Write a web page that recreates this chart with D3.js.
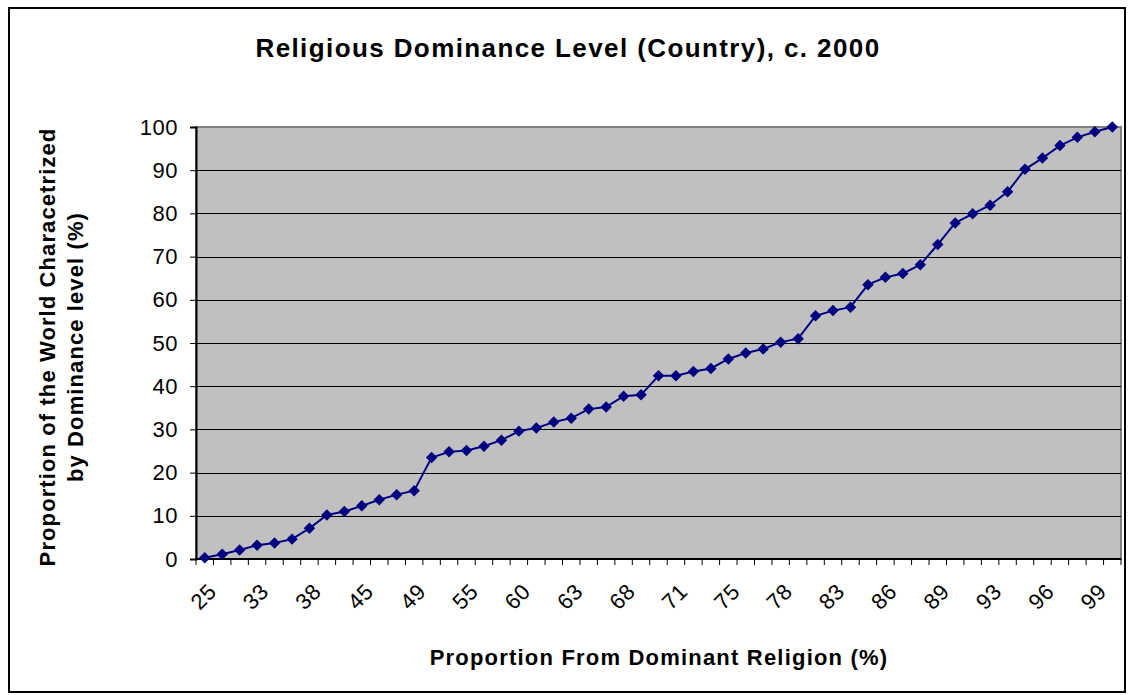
<!DOCTYPE html>
<html>
<head>
<meta charset="utf-8">
<script src="https://cdn.jsdelivr.net/npm/d3@7"></script>
<style>
  html, body { margin: 0; padding: 0; background: #fff; }
  svg { display: block; font-family: "Liberation Sans", Arial, sans-serif; }
</style>
</head>
<body>
<svg id="chart" width="1133" height="695"></svg>
<script>
// Dominance level categories (share of population in the dominant religion, %)
const categories = [
  25, 29, 31, 33, 35, 36, 38, 40, 42, 45, 46, 47, 49, 51, 53, 55, 57, 58,
  60, 61, 62, 63, 65, 66, 68, 69, 70, 71, 72, 74, 75, 76, 77, 78, 80, 81,
  83, 84, 85, 86, 87, 88, 89, 90, 92, 93, 94, 95, 96, 97, 98, 99, 100
];
// Cumulative share of the world characterized by each level (%)
const cumulativeShare = [
  0.3, 1.1, 2.1, 3.2, 3.7, 4.6, 7.1, 10.2, 11.0, 12.3, 13.7, 14.9, 15.8,
  23.5, 24.8, 25.1, 26.1, 27.5, 29.6, 30.3, 31.7, 32.6, 34.7, 35.2, 37.7, 38.0,
  42.4, 42.4, 43.4, 44.1, 46.3, 47.7, 48.6, 50.2, 51.0, 56.3, 57.5, 58.3,
  63.5, 65.2, 66.1, 68.1, 72.8, 77.8, 79.9, 81.9, 85.0, 90.2, 92.8, 95.7,
  97.6, 98.9, 100
];
const yTicks = [0, 10, 20, 30, 40, 50, 60, 70, 80, 90, 100];
const labelEvery = 3;

const titleText = "Religious Dominance Level (Country), c. 2000";
const xTitle = "Proportion From Dominant Religion (%)";
const yTitleLines = ["Proportion of the World Characetrized", "by Dominance level (%)"];

const svg = d3.select("#chart");
const plot = { left: 196, right: 1121, top: 127, bottom: 559 };

// Outer chart frame
svg.append("rect")
  .attr("x", 9).attr("y", 8).attr("width", 1116).attr("height", 684)
  .attr("fill", "#fff").attr("stroke", "#000").attr("stroke-width", 2);

const x = d3.scaleBand().domain(d3.range(categories.length))
  .range([plot.left, plot.right]).paddingInner(0).paddingOuter(0);
const y = d3.scaleLinear().domain([0, 100]).range([plot.bottom, plot.top]);

// Plot area background
svg.append("rect")
  .attr("x", plot.left).attr("y", plot.top)
  .attr("width", plot.right - plot.left).attr("height", plot.bottom - plot.top)
  .attr("fill", "#c0c0c0").attr("stroke", "#808080").attr("stroke-width", 2);

// Horizontal gridlines
svg.append("g").selectAll("line").data(yTicks.filter(t => t > 0 && t < 100)).join("line")
  .attr("x1", plot.left).attr("x2", plot.right)
  .attr("y1", d => Math.round(y(d)) + 0.5).attr("y2", d => Math.round(y(d)) + 0.5)
  .attr("stroke", "#000").attr("stroke-width", 1);

// Y axis
const yAxis = svg.append("g")
  .attr("transform", `translate(${plot.left},0)`)
  .call(d3.axisLeft(y).tickValues(yTicks).tickSize(6).tickPadding(12));
yAxis.select(".domain").attr("stroke", "#000").attr("stroke-width", 2);
yAxis.selectAll(".tick line").attr("stroke", "#000");
yAxis.selectAll(".tick text")
  .attr("font-size", 22).attr("fill", "#000").attr("letter-spacing", 0.5)
  .attr("font-family", "Liberation Sans, Arial, sans-serif");

// X axis: ticks at category boundaries, labels on every third category
const xAxisG = svg.append("g").attr("transform", `translate(0,${plot.bottom})`);
xAxisG.append("line")
  .attr("x1", plot.left).attr("x2", plot.right).attr("y1", 0).attr("y2", 0)
  .attr("stroke", "#000").attr("stroke-width", 2);
xAxisG.selectAll("line.tk").data(d3.range(categories.length + 1)).join("line")
  .attr("class", "tk")
  .attr("x1", i => plot.left + i * x.bandwidth())
  .attr("x2", i => plot.left + i * x.bandwidth())
  .attr("y1", 0).attr("y2", 6)
  .attr("stroke", "#000").attr("stroke-width", 1);
xAxisG.selectAll("text").data(d3.range(0, categories.length, labelEvery)).join("text")
  .attr("transform", i => `translate(${x(i) + x.bandwidth() / 2 + 13},${34}) rotate(-45)`)
  .attr("text-anchor", "end")
  .attr("font-size", 22).attr("letter-spacing", 0.5)
  .attr("fill", "#000")
  .text(i => categories[i]);

// Series line and diamond markers
const line = d3.line()
  .x((d, i) => x(i) + x.bandwidth() / 2)
  .y(d => y(d));
svg.append("path").datum(cumulativeShare)
  .attr("d", line).attr("fill", "none")
  .attr("stroke", "#000080").attr("stroke-width", 2);
svg.append("g").selectAll("path").data(cumulativeShare).join("path")
  .attr("d", d3.symbol(d3.symbolSquare, 66))
  .attr("transform", (d, i) => `translate(${x(i) + x.bandwidth() / 2},${y(d)}) rotate(45)`)
  .attr("fill", "#000080");

// Titles
svg.append("text")
  .attr("x", 568).attr("y", 57).attr("text-anchor", "middle")
  .attr("font-size", 26).attr("font-weight", "bold").attr("letter-spacing", 1.4)
  .text(titleText);

svg.append("text")
  .attr("x", 659).attr("y", 665).attr("text-anchor", "middle")
  .attr("font-size", 22).attr("font-weight", "bold").attr("letter-spacing", 1.2)
  .text(xTitle);

svg.append("g").selectAll("text").data(yTitleLines).join("text")
  .attr("transform", (d, i) => `translate(${55 + i * 28},347) rotate(-90)`)
  .attr("text-anchor", "middle")
  .attr("font-size", 22).attr("font-weight", "bold").attr("letter-spacing", 1.1)
  .text(d => d);
</script>
</body>
</html>
